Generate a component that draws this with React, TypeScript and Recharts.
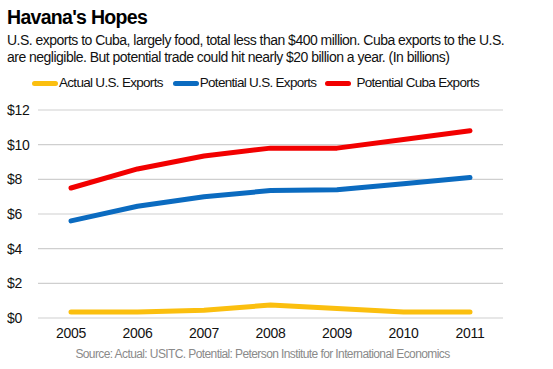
import { LineChart, Line, XAxis, YAxis, CartesianGrid } from 'recharts'

const YEARS = ['2005', '2006', '2007', '2008', '2009', '2010', '2011']
const ACTUAL_US = [0.35, 0.35, 0.45, 0.75, 0.55, 0.35, 0.35]
const POTENTIAL_US = [5.6, 6.45, 7.0, 7.35, 7.4, 7.75, 8.1]
const POTENTIAL_CUBA = [7.5, 8.6, 9.35, 9.8, 9.8, 10.3, 10.8]
const Y_TICKS = [0, 2, 4, 6, 8, 10, 12]

const SERIES = [
  { key: 'actual', name: 'Actual U.S. Exports', color: '#fbbf0f' },
  { key: 'potUs', name: 'Potential U.S. Exports', color: '#0b6bc0' },
  { key: 'potCuba', name: 'Potential Cuba Exports', color: '#f20000' },
]

const data = YEARS.map((year, i) => ({
  year,
  actual: ACTUAL_US[i],
  potUs: POTENTIAL_US[i],
  potCuba: POTENTIAL_CUBA[i],
}))

const FONT = '"Liberation Sans", Arial, sans-serif'

function YTick({ y, payload }: any) {
  return (
    <text x={7} y={y} dy={5} textAnchor="start" fontSize={14} fill="#111" fontFamily={FONT} letterSpacing={-0.3}>
      ${payload.value}
    </text>
  )
}

// legend spacing
const LEGEND_GAP_AFTER = [10, 9, 0]
const LEGEND_LINE_GAP = [1, 1, 5]

function LegendRow() {
  return (
    <div
      style={{
        position: 'absolute',
        top: 74,
        left: 32,
        display: 'flex',
        fontFamily: FONT,
        fontSize: 13.5,
        letterSpacing: -0.7,
        lineHeight: '18px',
        color: '#111',
        whiteSpace: 'nowrap',
      }}
    >
      {SERIES.map((s, i) => (
        <div key={s.key} style={{ display: 'flex', alignItems: 'center', marginRight: LEGEND_GAP_AFTER[i] }}>
          <span
            style={{
              display: 'inline-block',
              width: 26,
              height: 5,
              borderRadius: 3,
              background: s.color,
              marginRight: LEGEND_LINE_GAP[i],
            }}
          />
          {s.name}
        </div>
      ))}
    </div>
  )
}

export default function App() {
  return (
    <div style={{ position: 'relative', width: 553, height: 369, background: '#fff', overflow: 'hidden' }}>
      <style>{`body{margin:0}`}</style>
      <div
        style={{
          position: 'absolute',
          left: 7,
          top: 6,
          fontFamily: FONT,
          fontWeight: 'bold',
          fontSize: 19.5,
          letterSpacing: -0.7,
          color: '#000',
          whiteSpace: 'nowrap',
        }}
      >
        Havana's Hopes
      </div>
      <div
        style={{
          position: 'absolute',
          left: 7,
          top: 32,
          fontFamily: FONT,
          fontSize: 14,
          letterSpacing: -0.52,
          lineHeight: '17px',
          color: '#111',
          whiteSpace: 'nowrap',
        }}
      >
        U.S. exports to Cuba, largely food, total less than $400 million. Cuba exports to the U.S.
        <br />
        are negligible. But potential trade could hit nearly $20 billion a year. (In billions)
      </div>
      <LegendRow />
      <LineChart
        width={553}
        height={369}
        data={data}
        margin={{ top: 110, right: 50, bottom: 21, left: 0 }}
        style={{ position: 'absolute', left: 0, top: 0 }}
      >
        <CartesianGrid horizontal vertical={false} stroke="#cfcfcf" strokeWidth={1.2} />
        <XAxis
          dataKey="year"
          axisLine={false}
          tickLine={false}
          padding={{ left: 33, right: 33 }}
          tick={{ fontSize: 14, fill: '#111', fontFamily: FONT, letterSpacing: -0.3 }}
          tickMargin={4}
        />
        <YAxis
          width={38}
          domain={[0, 12]}
          ticks={Y_TICKS}
          axisLine={false}
          tickLine={false}
          tick={<YTick />}
          interval={0}
        />
        {SERIES.map(s => (
          <Line
            key={s.key}
            dataKey={s.key}
            name={s.name}
            stroke={s.color}
            strokeWidth={5}
            strokeLinecap="round"
            strokeLinejoin="round"
            dot={false}
            activeDot={false}
            isAnimationActive={false}
          />
        ))}
      </LineChart>
      <div
        style={{
          position: 'absolute',
          left: 0,
          width: 525,
          top: 347,
          textAlign: 'center',
          fontFamily: FONT,
          fontSize: 12,
          letterSpacing: -0.6,
          color: '#8a8a8a',
          whiteSpace: 'nowrap',
        }}
      >
        Source: Actual: USITC. Potential: Peterson Institute for International Economics
      </div>
    </div>
  )
}
